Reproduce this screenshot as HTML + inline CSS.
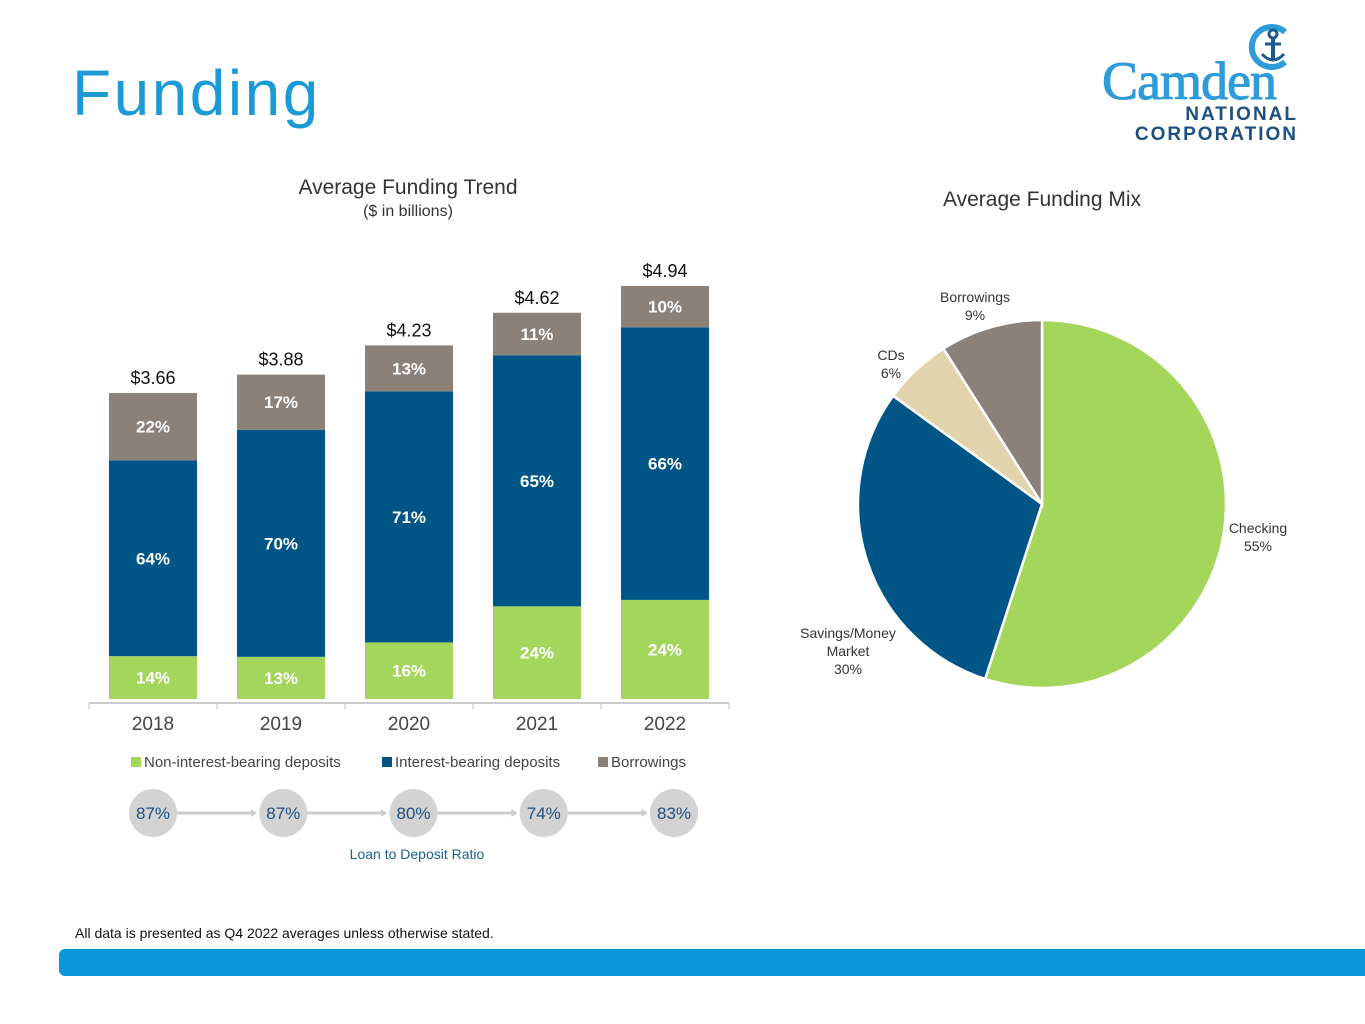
<!DOCTYPE html>
<html><head><meta charset="utf-8"><style>
body{margin:0;width:1365px;height:1024px;background:#fff;overflow:hidden;font-family:"Liberation Sans",sans-serif;position:relative}
.t{position:absolute}
</style></head><body>
<div class="t" style="left:72px;top:56px;font-size:64px;color:#1b9ad6;letter-spacing:2.5px">Funding</div>
<div class="t" style="left:1100px;top:24px;width:200px;height:122px">
<svg width="200" height="122"><path d="M185 8 A20 20 0 1 0 185 38" fill="none" stroke="#2d9cd8" stroke-width="6"/><circle cx="173" cy="10" r="4" fill="none" stroke="#1d5b8f" stroke-width="3"/><line x1="173" y1="14" x2="173" y2="37" stroke="#1d5b8f" stroke-width="4"/><line x1="165" y1="20" x2="181" y2="20" stroke="#1d5b8f" stroke-width="3"/><path d="M162 30 Q173 42 184 30" fill="none" stroke="#1d5b8f" stroke-width="3"/></svg>
<div class="t" style="left:2px;top:26px;font-family:'Liberation Serif',serif;font-size:54px;color:#2d9cd8;letter-spacing:-1px;-webkit-text-stroke:1px #2d9cd8">Camden</div>
<div class="t" style="right:2px;top:80px;font-size:19px;color:#1d4f7f;font-weight:bold;letter-spacing:2px">NATIONAL</div>
<div class="t" style="right:2px;top:100px;font-size:19px;color:#1d4f7f;font-weight:bold;letter-spacing:2px">CORPORATION</div>
</div>
<div class="t" style="left:208px;width:400px;text-align:center;top:176px;font-size:21px;color:#333">Average Funding Trend</div>
<div class="t" style="left:208px;width:400px;text-align:center;top:203px;font-size:16px;color:#333">($ in billions)</div>
<div class="t" style="left:842px;width:400px;text-align:center;top:188px;font-size:21px;color:#333">Average Funding Mix</div>
<svg id="bars" class="t" style="left:0;top:0" width="760" height="880"></svg>
<svg id="pie" class="t" style="left:760px;top:0" width="605" height="880"></svg>
<div class="t" style="left:75px;top:925px;font-size:14px;color:#111">All data is presented as Q4 2022 averages unless otherwise stated.</div>
<div class="t" style="left:59px;top:949px;width:1306px;height:27px;background:#0a96d8;border-radius:6px 0 0 6px"></div>
<script>
const years=["2018","2019","2020","2021","2022"];
const totals=[3.66,3.88,4.23,4.62,4.94];
const nonInterest=[14,13,16,24,24];
const interest=[64,70,71,65,66];
const borrow=[22,17,13,11,10];
const ltd=["87%","87%","80%","74%","83%"];
const pieLabels=[["Checking","55%"],["Savings/Money","Market","30%"],["CDs","6%"],["Borrowings","9%"]];
const pieVals=[55,30,6,9];
const pieColors=["#a5d65c","#005587","#e1d4ac","#8b8178"];
const NS="http://www.w3.org/2000/svg";
function mk(p,t,a){const e=document.createElementNS(NS,t);for(const k in a)e.setAttribute(k,a[k]);p.appendChild(e);return e;}
const B=document.getElementById('bars');
const base=699,scale=83.6;
const xc=i=>153+i*128;
const xl=i=>153+i*130.25;
const y=v=>base-v*scale;
let ax=mk(B,'line',{x1:89,x2:729,y1:703,y2:703,stroke:'#bbb','stroke-width':1.5});


for(let i=0;i<=5;i++){const tk=mk(B,'line',{x1:89+i*128,x2:89+i*128,y1:703,y2:709,stroke:'#bbb'});

}
const segs=[[nonInterest,'#a5d65c','green'],[interest,'#005587','blue'],[borrow,'#8b8178','gray']];
years.forEach((yr,i)=>{
 const h=totals[i]*scale;let cur=base;
 segs.forEach(([arr,col,n])=>{
  const sh=h*arr[i]/100;
  const r=mk(B,'rect',{x:xc(i)-44,y:cur-sh,width:88,height:sh,fill:col});
  
  
  const t=mk(B,'text',{x:xc(i),y:cur-sh/2+6,'text-anchor':'middle','font-size':17,'font-weight':'bold',fill:'#fff'});
  t.textContent=arr[i]+'%';
  
  
  cur-=sh;});
 const tt=mk(B,'text',{x:xc(i),y:y(totals[i])-9,'text-anchor':'middle','font-size':18,fill:'#111'});
 tt.textContent='$'+totals[i].toFixed(2);
 
 
 const yl=mk(B,'text',{x:xc(i),y:730,'text-anchor':'middle','font-size':19,fill:'#444'});
 yl.textContent=yr;
 
 
 if(i<4){const ar=mk(B,'line',{x1:xl(i)+24,x2:xl(i)+100,y1:813,y2:813,stroke:'#ccc','stroke-width':3});
 
 
 mk(B,'path',{d:`M${xl(i)+98} 809 L${xl(i)+104} 813 L${xl(i)+98} 817Z`,fill:'#ccc'});}
 const c=mk(B,'circle',{cx:xl(i),cy:813,r:24,fill:'#d3d3d3'});
 
 
 const ct=mk(B,'text',{x:xl(i),y:819,'text-anchor':'middle','font-size':17,fill:'#1d4f7f'});
 ct.textContent=ltd[i];
 
 
});
const leg=[['Non-interest-bearing deposits','#a5d65c',131],['Interest-bearing deposits','#005587',382],['Borrowings','#8b8178',598]];
leg.forEach(([l,c,x])=>{const r=mk(B,'rect',{x:x,y:757,width:10,height:10,fill:c});
 
 
 const t=mk(B,'text',{x:x+13,y:767,'font-size':15,fill:'#444'});t.textContent=l;
 
 });
const lt=mk(B,'text',{x:417,y:859,'text-anchor':'middle','font-size':14,fill:'#1d5f8f'});lt.textContent='Loan to Deposit Ratio';


const P=document.getElementById('pie');
const cx=282,cy=504,R=184;
const tot=pieVals.reduce((a,b)=>a+b,0);
let a0=0;
const pt=(a,r)=>[cx+r*Math.sin(a),cy-r*Math.cos(a)];
const lpos=[[498,533],[88,638],[131,360],[215,302]];
pieVals.forEach((v,i)=>{
 const a1=a0+v/tot*2*Math.PI;const p0=pt(a0,R),p1=pt(a1,R);
 const s=mk(P,'path',{d:`M${cx} ${cy} L${p0[0]} ${p0[1]} A${R} ${R} 0 ${a1-a0>Math.PI?1:0} 1 ${p1[0]} ${p1[1]}Z`,fill:pieColors[i],stroke:'#fff','stroke-width':2.5});
 
 
 a0=a1;
 pieLabels[i].forEach((ln,k)=>{const t=mk(P,'text',{x:lpos[i][0],y:lpos[i][1]+k*18,'text-anchor':'middle','font-size':14,fill:'#333'});t.textContent=ln;
 
 });
});
</script>
</body></html>
